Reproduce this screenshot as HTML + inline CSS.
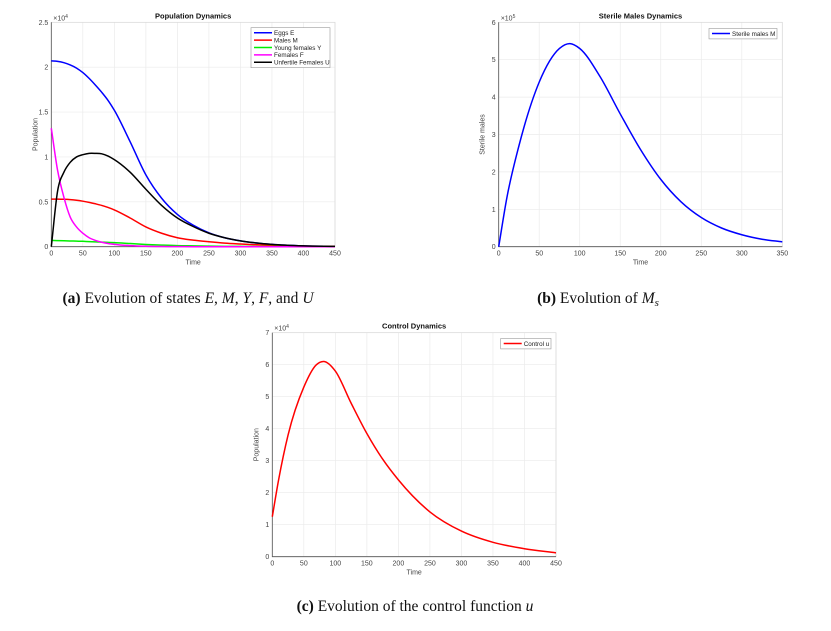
<!DOCTYPE html>
<html><head><meta charset="utf-8">
<style>
body{margin:0;background:#fff;width:831px;height:631px;overflow:hidden}
svg{display:block}
.tk{font-family:"Liberation Sans",sans-serif;font-size:7px;fill:#444}
.tt{font-family:"Liberation Sans",sans-serif;font-size:7.5px;font-weight:bold;fill:#111}
.lg{font-family:"Liberation Sans",sans-serif;font-size:6.3px;fill:#222}
.cap{font-family:"Liberation Serif",serif;font-size:15.5px;fill:#111}
</style></head><body>
<svg id="svg" width="831" height="631" viewBox="0 0 831 631" xmlns="http://www.w3.org/2000/svg">
<text class="cap" x="188" y="303" text-anchor="middle"><tspan font-weight="bold">(a)</tspan> Evolution of states <tspan font-style="italic">E</tspan>, <tspan font-style="italic">M</tspan>, <tspan font-style="italic">Y</tspan>, <tspan font-style="italic">F</tspan>, and <tspan font-style="italic">U</tspan></text>
<text class="cap" x="598" y="303" text-anchor="middle"><tspan font-weight="bold">(b)</tspan> Evolution of <tspan font-style="italic">M<tspan font-size="11" dy="3">s</tspan></tspan></text>
<text class="cap" x="415" y="611" text-anchor="middle"><tspan font-weight="bold">(c)</tspan> Evolution of the control function <tspan font-style="italic">u</tspan></text>
</svg>
<script>
// Chart A data (×1e4)
const tA = [0,10,20,30,40,50,60,70,80,90,100,125,150,175,200,225,250,275,300,350,400,450];
const eggsE = [2.07,2.065,2.05,2.025,1.99,1.94,1.875,1.80,1.72,1.63,1.52,1.17,0.80,0.54,0.36,0.24,0.155,0.10,0.065,0.026,0.009,0.003];
const malesM = [0.53,0.53,0.528,0.524,0.517,0.507,0.494,0.478,0.46,0.437,0.41,0.32,0.22,0.15,0.10,0.073,0.055,0.04,0.03,0.015,0.007,0.003];
const youngY = [0.07,0.068,0.066,0.064,0.062,0.06,0.057,0.054,0.051,0.048,0.045,0.035,0.025,0.018,0.012,0.009,0.006,0.004,0.003,0.002,0.001,0];
const femalesF = [1.32,0.85,0.55,0.33,0.22,0.15,0.10,0.07,0.05,0.036,0.026,0.012,0.005,0.002,0.001,0,0,0,0,0,0,0];
const unfertU = [0,0.62,0.83,0.94,1.0,1.025,1.04,1.04,1.035,1.01,0.97,0.83,0.64,0.46,0.32,0.225,0.15,0.10,0.065,0.026,0.009,0.003];
const xTicksA = [0,50,100,150,200,250,300,350,400,450];
const yTicksA = [0,0.5,1,1.5,2,2.5];
const yLabelsA = ["0","0.5","1","1.5","2","2.5"];
// Chart B data (×1e5)
const tB = [0,10,25,50,75,88,100,125,150,175,200,225,250,275,300,325,350];
const sterileMs = [0,1.3,2.7,4.4,5.3,5.43,5.3,4.55,3.55,2.6,1.8,1.2,0.78,0.5,0.32,0.2,0.13];
const xTicksB = [0,50,100,150,200,250,300,350];
const yTicksB = [0,1,2,3,4,5,6];
// Chart C data (×1e4)
const tC = [0,10,25,50,70,82,100,125,150,175,200,250,300,350,400,450];
const controlU = [1.25,2.4,3.8,5.3,6.0,6.1,5.8,4.8,3.85,3.05,2.4,1.4,0.8,0.45,0.25,0.12];
const xTicksC = [0,50,100,150,200,250,300,350,400,450];
const yTicksC = [0,1,2,3,4,5,6,7];

const svg=document.getElementById('svg');
const NS='http://www.w3.org/2000/svg';
function mk(tag,at,parent){const e=document.createElementNS(NS,tag);for(const k in at)e.setAttribute(k,at[k]);(parent||svg).appendChild(e);return e;}
function smooth(pts){
  const n=pts.length,m=[];
  for(let i=0;i<n;i++){
    if(i===0)m.push((pts[1][1]-pts[0][1])/(pts[1][0]-pts[0][0]));
    else if(i===n-1)m.push((pts[n-1][1]-pts[n-2][1])/(pts[n-1][0]-pts[n-2][0]));
    else{const a=(pts[i][1]-pts[i-1][1])/(pts[i][0]-pts[i-1][0]),b=(pts[i+1][1]-pts[i][1])/(pts[i+1][0]-pts[i][0]);
      const h0=pts[i][0]-pts[i-1][0],h1=pts[i+1][0]-pts[i][0];
      m.push((a*h1+b*h0)/(h0+h1));}
  }
  let d='M'+pts[0][0].toFixed(2)+','+pts[0][1].toFixed(2);
  for(let i=0;i<n-1;i++){const h=pts[i+1][0]-pts[i][0];
    d+=' C'+(pts[i][0]+h/3).toFixed(2)+','+(pts[i][1]+m[i]*h/3).toFixed(2)+' '+(pts[i+1][0]-h/3).toFixed(2)+','+(pts[i+1][1]-m[i+1]*h/3).toFixed(2)+' '+pts[i+1][0].toFixed(2)+','+pts[i+1][1].toFixed(2);}
  return d;}
function chart(o){
  const g=mk('g',{});
  
  
  const sx=v=>o.x0+(v-o.xmin)/(o.xmax-o.xmin)*(o.x1-o.x0);
  const sy=v=>o.y0-(v-o.ymin)/(o.ymax-o.ymin)*(o.y0-o.y1);
  o.xt.forEach(v=>{const l=mk('line',{x1:sx(v),x2:sx(v),y1:o.y1,y2:o.y0,stroke:'#ebebeb','stroke-width':0.7},g);
    
    
    const t=mk('text',{x:sx(v),y:o.y0+9,'text-anchor':'middle',class:'tk'},g);t.textContent=v;
    
    });
  o.yt.forEach((v,i)=>{const l=mk('line',{x1:o.x0,x2:o.x1,y1:sy(v),y2:sy(v),stroke:'#ebebeb','stroke-width':0.7},g);
    
    
    const t=mk('text',{x:o.x0-3,y:sy(v)+2.5,'text-anchor':'end',class:'tk'},g);t.textContent=o.yl?o.yl[i]:v;
    
    });
  const b=mk('rect',{x:o.x0,y:o.y1,width:o.x1-o.x0,height:o.y0-o.y1,fill:'none',stroke:'#d8d8d8','stroke-width':0.7},g);
  
  
  const ax=mk('path',{d:`M${o.x0},${o.y1}V${o.y0}H${o.x1}`,fill:'none',stroke:'#555','stroke-width':0.8},g);
  
  
  const ex=mk('text',{x:o.x0+2,y:o.y1-2,class:'tk'},g);ex.innerHTML='×10<tspan dy="-2.5" font-size="5">'+o.exp+'</tspan>';
  
  
  const ti=mk('text',{x:(o.x0+o.x1)/2,y:o.y1-4,'text-anchor':'middle',class:'tt'},g);ti.textContent=o.title;
  
  
  const xl=mk('text',{x:(o.x0+o.x1)/2,y:o.y0+18,'text-anchor':'middle',class:'tk','font-size':'7.5'},g);xl.textContent='Time';
  
  
  const yx=o.x0-14,yy=(o.y0+o.y1)/2;
  const yl=mk('text',{x:yx,y:yy,'text-anchor':'middle',class:'tk','font-size':'7.5',transform:`rotate(-90 ${yx} ${yy})`},g);yl.textContent=o.ylab;
  
  
  o.series.forEach(s=>{const pts=o.t.map((tv,i)=>[sx(tv),sy(s.v[i])]);
    const p=mk('path',{d:smooth(pts),fill:'none',stroke:s.c,'stroke-width':1.5},g);
    
    });
  const L=o.leg;const lh=7.4;
  const lb=mk('rect',{x:L.x,y:L.y,width:L.w,height:o.series.length*lh+3,fill:'#fff',stroke:'#999','stroke-width':0.6},g);
  
  
  o.series.forEach((s,i)=>{const y=L.y+5+i*lh;
    const l=mk('line',{x1:L.x+3,x2:L.x+21,y1:y,y2:y,stroke:s.c,'stroke-width':1.5},g);
    
    
    const t=mk('text',{x:L.x+23,y:y+2.3,class:'lg'},g);t.textContent=s.n;
    
    });
}
chart({name:'population-dynamics-chart',x0:51.3,x1:335,y0:246.7,y1:22.3,xmin:0,xmax:450,ymin:0,ymax:2.5,xt:xTicksA,yt:yTicksA,yl:yLabelsA,exp:4,title:'Population Dynamics',ylab:'Population',t:tA,
 series:[{n:'Eggs E',c:'#0000ff',v:eggsE},{n:'Males M',c:'#ff0000',v:malesM},{n:'Young females Y',c:'#00ee00',v:youngY},{n:'Females F',c:'#ff00ff',v:femalesF},{n:'Unfertile Females U',c:'#000000',v:unfertU}],
 leg:{x:251,y:27.7,w:79}});
chart({name:'sterile-males-chart',x0:498.7,x1:782.3,y0:246.7,y1:22.3,xmin:0,xmax:350,ymin:0,ymax:6,xt:xTicksB,yt:yTicksB,exp:5,title:'Sterile Males Dynamics',ylab:'Sterile males',t:tB,
 series:[{n:'Sterile males M',c:'#0000ff',v:sterileMs}],leg:{x:709,y:28.5,w:68}});
chart({name:'control-dynamics-chart',x0:272.3,x1:556,y0:556.7,y1:332.7,xmin:0,xmax:450,ymin:0,ymax:7,xt:xTicksC,yt:yTicksC,exp:4,title:'Control Dynamics',ylab:'Population',t:tC,
 series:[{n:'Control u',c:'#ff0000',v:controlU}],leg:{x:500.7,y:338.5,w:50.3}});
</script>
</body></html>
